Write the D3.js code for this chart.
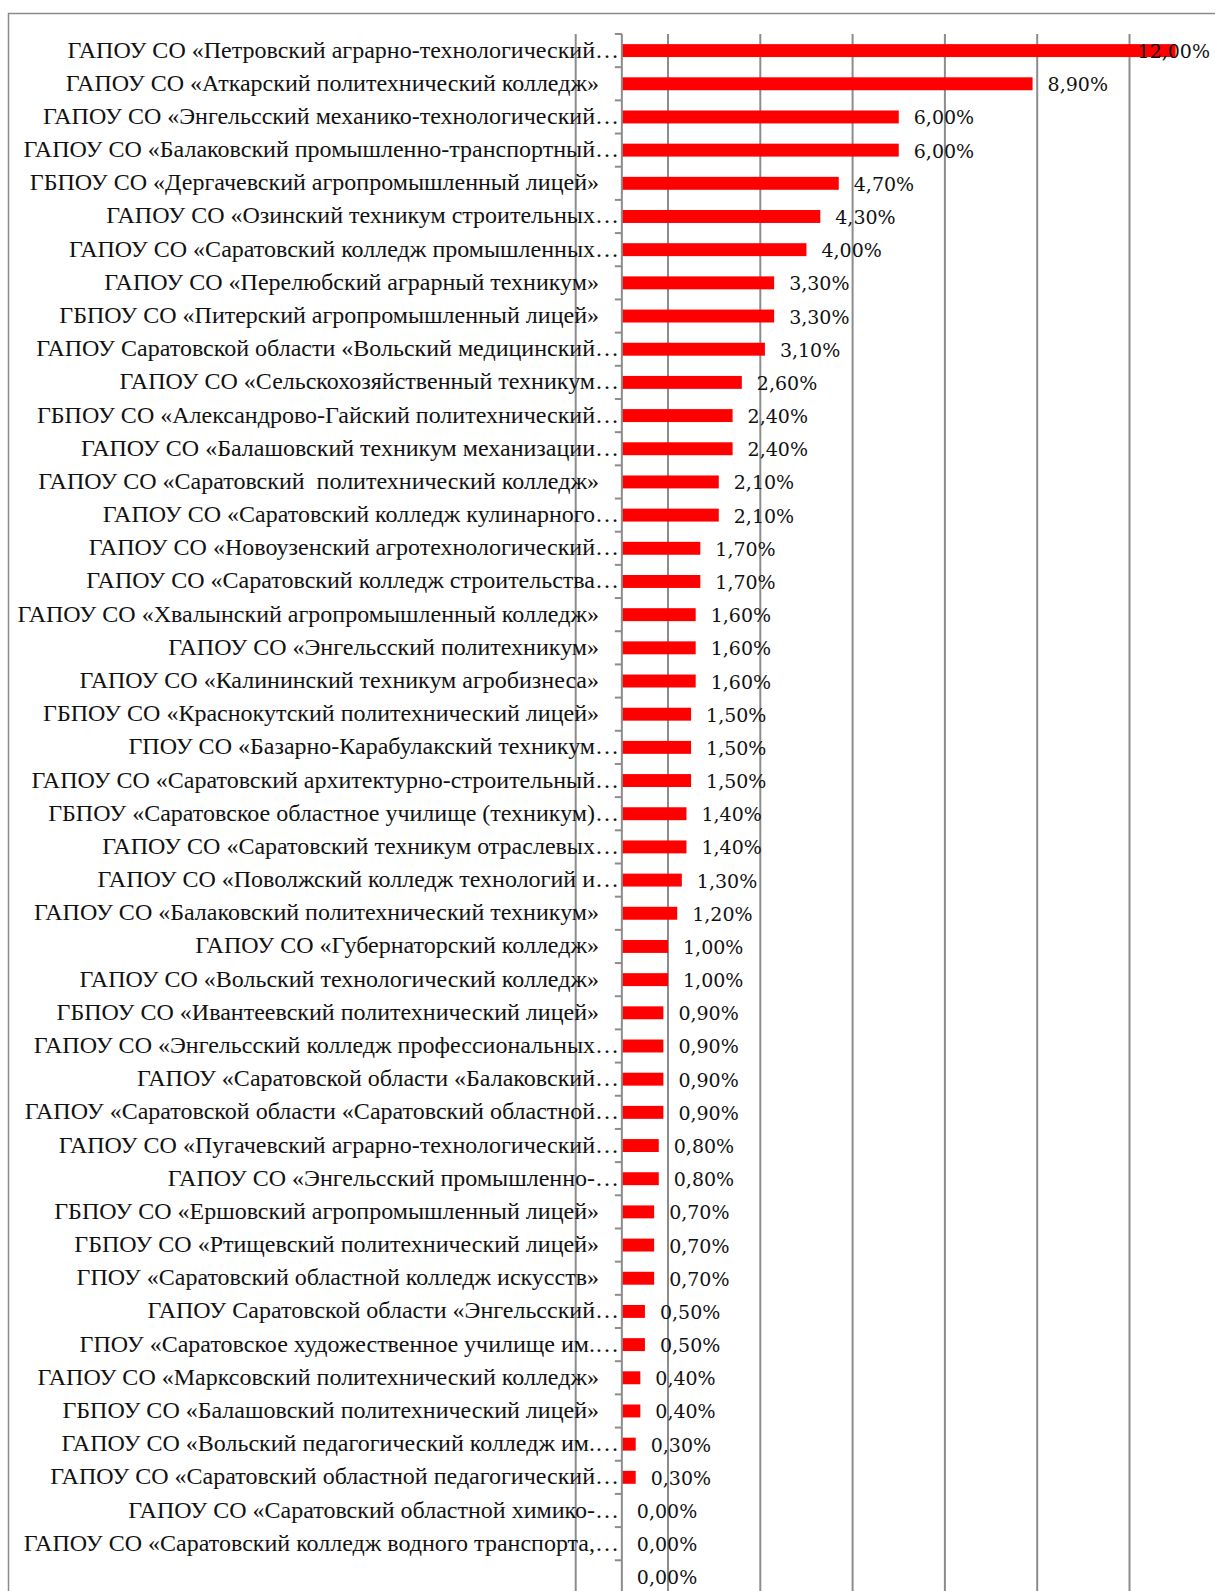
<!DOCTYPE html>
<html>
<head>
<meta charset="utf-8">
<script src="https://cdn.jsdelivr.net/npm/d3@7"></script>
<style>
    body { margin: 0; background: #ffffff; }
    svg { display: block; }
    .cat-label { font-family: "Liberation Serif", "Times New Roman", serif; font-size: 24px; fill: #111111; white-space: pre; }
    .val-label { font-family: "DejaVu Serif", serif; font-size: 19px; fill: #111111; }
</style>
</head>
<body>
<svg id="chart"></svg>
<script>
var categories = [
    'ГАПОУ СО «Петровский аграрно-технологический…',
    'ГАПОУ СО «Аткарский политехнический колледж»',
    'ГАПОУ СО «Энгельсский механико-технологический…',
    'ГАПОУ СО «Балаковский промышленно-транспортный…',
    'ГБПОУ СО «Дергачевский агропромышленный лицей»',
    'ГАПОУ СО «Озинский техникум строительных…',
    'ГАПОУ СО «Саратовский колледж промышленных…',
    'ГАПОУ СО «Перелюбский аграрный техникум»',
    'ГБПОУ СО «Питерский агропромышленный лицей»',
    'ГАПОУ Саратовской области «Вольский медицинский…',
    'ГАПОУ СО «Сельскохозяйственный техникум…',
    'ГБПОУ СО «Александрово-Гайский политехнический…',
    'ГАПОУ СО «Балашовский техникум механизации…',
    'ГАПОУ СО «Саратовский  политехнический колледж»',
    'ГАПОУ СО «Саратовский колледж кулинарного…',
    'ГАПОУ СО «Новоузенский агротехнологический…',
    'ГАПОУ СО «Саратовский колледж строительства…',
    'ГАПОУ СО «Хвалынский агропромышленный колледж»',
    'ГАПОУ СО «Энгельсский политехникум»',
    'ГАПОУ СО «Калининский техникум агробизнеса»',
    'ГБПОУ СО «Краснокутский политехнический лицей»',
    'ГПОУ СО «Базарно-Карабулакский техникум…',
    'ГАПОУ СО «Саратовский архитектурно-строительный…',
    'ГБПОУ «Саратовское областное училище (техникум)…',
    'ГАПОУ СО «Саратовский техникум отраслевых…',
    'ГАПОУ СО «Поволжский колледж технологий и…',
    'ГАПОУ СО «Балаковский политехнический техникум»',
    'ГАПОУ СО «Губернаторский колледж»',
    'ГАПОУ СО «Вольский технологический колледж»',
    'ГБПОУ СО «Ивантеевский политехнический лицей»',
    'ГАПОУ СО «Энгельсский колледж профессиональных…',
    'ГАПОУ «Саратовской области «Балаковский…',
    'ГАПОУ «Саратовской области «Саратовский областной…',
    'ГАПОУ СО «Пугачевский аграрно-технологический…',
    'ГАПОУ СО «Энгельсский промышленно-…',
    'ГБПОУ СО «Ершовский агропромышленный лицей»',
    'ГБПОУ СО «Ртищевский политехнический лицей»',
    'ГПОУ «Саратовский областной колледж искусств»',
    'ГАПОУ Саратовской области «Энгельсский…',
    'ГПОУ «Саратовское художественное училище им.…',
    'ГАПОУ СО «Марксовский политехнический колледж»',
    'ГБПОУ СО «Балашовский политехнический лицей»',
    'ГАПОУ СО «Вольский педагогический колледж им.…',
    'ГАПОУ СО «Саратовский областной педагогический…',
    'ГАПОУ СО «Саратовский областной химико-…',
    'ГАПОУ СО «Саратовский колледж водного транспорта,…',
    ''
];
var values = [
    12.0, 8.9, 6.0, 6.0, 4.7, 4.3, 4.0, 3.3, 3.3, 3.1,
    2.6, 2.4, 2.4, 2.1, 2.1, 1.7, 1.7, 1.6, 1.6, 1.6,
    1.5, 1.5, 1.5, 1.4, 1.4, 1.3, 1.2, 1.0, 1.0, 0.9,
    0.9, 0.9, 0.9, 0.8, 0.8, 0.7, 0.7, 0.7, 0.5, 0.5,
    0.4, 0.4, 0.3, 0.3, 0.0, 0.0, 0.0
];
var gridTicks = [-1, 1, 3, 5, 7, 9, 11, 13];

(function() {
    var width = 1215;
    var height = 1591;
    var svg = d3.select('#chart')
        .attr('width', width)
        .attr('height', height);

    var plot = {left: 575.7, top: 34, step: 33.18, pctPx: 46.15};
    var data = categories.map(function(c, i) { return {id: i, name: c, value: values[i]}; });

    var x = d3.scaleLinear()
        .domain([-1, 13])
        .range([plot.left, plot.left + 14 * plot.pctPx]);
    var y = d3.scaleBand()
        .domain(data.map(function(d) { return d.id; }))
        .range([plot.top, plot.top + data.length * plot.step])
        .paddingInner(0.61)
        .paddingOuter(0.305);
    var band = d3.scaleBand()
        .domain(data.map(function(d) { return d.id; }))
        .range([plot.top, plot.top + data.length * plot.step]);

    // chart area border
    svg.append('rect')
        .attr('x', 8.5)
        .attr('y', 13.5)
        .attr('width', width + 20)
        .attr('height', height + 20)
        .attr('fill', 'none')
        .attr('stroke', '#8a8a8a')
        .attr('stroke-width', 1.5);

    // vertical gridlines
    svg.append('g')
        .selectAll('line')
        .data(gridTicks)
        .enter().append('line')
        .attr('x1', function(d) { return x(d); })
        .attr('x2', function(d) { return x(d); })
        .attr('y1', plot.top)
        .attr('y2', height + 10)
        .attr('stroke', '#8c8c8c')
        .attr('stroke-width', 2);

    // bars
    svg.append('g')
        .selectAll('rect')
        .data(data.filter(function(d) { return d.value > 0; }))
        .enter().append('rect')
        .attr('x', x(0))
        .attr('y', function(d) { return y(d.id); })
        .attr('width', function(d) { return x(d.value) - x(0); })
        .attr('height', y.bandwidth())
        .attr('fill', '#ff0000');

    // category axis
    var axisX = x(0);
    var axis = svg.append('g');
    axis.append('line')
        .attr('x1', axisX).attr('x2', axisX)
        .attr('y1', plot.top).attr('y2', height + 10)
        .attr('stroke', '#8c8c8c')
        .attr('stroke-width', 2);
    axis.selectAll('.tick')
        .data(d3.range(data.length + 1))
        .enter().append('line')
        .attr('class', 'tick')
        .attr('x1', axisX - 7).attr('x2', axisX)
        .attr('y1', function(i) { return plot.top + i * plot.step; })
        .attr('y2', function(i) { return plot.top + i * plot.step; })
        .attr('stroke', '#8c8c8c')
        .attr('stroke-width', 2);

    // category labels
    svg.append('g')
        .selectAll('text')
        .data(data)
        .enter().append('text')
        .attr('class', 'cat-label')
        .attr('text-anchor', 'end')
        .attr('x', function(d) { return d.name.slice(-1) == '…' ? 619 : 599; })
        .attr('y', function(d) { return band(d.id) + band.bandwidth() / 2 + 7; })
        .text(function(d) { return d.name; });

    // value labels
    var fmt = function(v) { return v.toFixed(2).replace('.', ',') + '%'; };
    svg.append('g')
        .selectAll('text')
        .data(data)
        .enter().append('text')
        .attr('class', 'val-label')
        .attr('y', function(d) { return band(d.id) + band.bandwidth() / 2 + 7.5; })
        .text(function(d) { return fmt(d.value); })
        .attr('x', function(d) {
            var w = this.getComputedTextLength();
            return Math.min(x(d.value) + 15, 1210 - w);
        });
})();
</script>
</body>
</html>
